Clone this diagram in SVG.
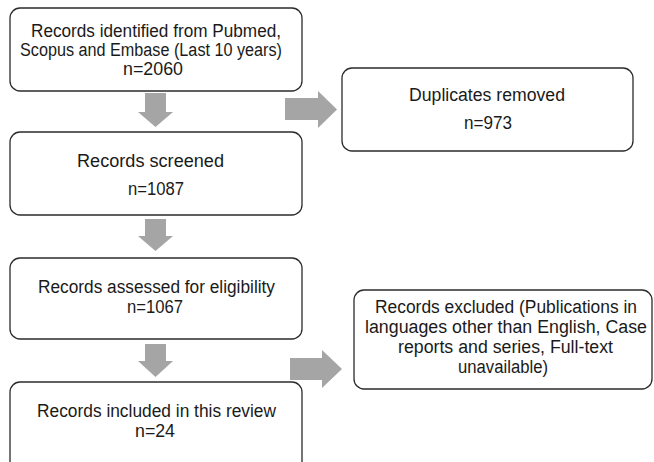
<svg xmlns="http://www.w3.org/2000/svg" width="654" height="462" viewBox="0 0 654 462">
<style>
.box{fill:#fff;stroke:#2b2b2b;stroke-width:1.3}
.t{font-family:"Liberation Sans",Arial,sans-serif;font-size:18px;fill:#1a1a1a;text-anchor:middle}
.ar{fill:#a5a5a5}
</style>
<rect width="654" height="462" fill="#fff"/>
<g id="connectors">
<polygon class="ar" points="145,93 166,93 166,112 173,112 155.5,127 138,112 145,112"/>
<polygon class="ar" points="145,219 166,219 166,236 173,236 155.5,251 138,236 145,236"/>
<polygon class="ar" points="145,344 166,344 166,361 173,361 155.5,377 138,361 145,361"/>
<polygon class="ar" points="285,98 318,98 318,91 337,109.5 318,128 318,120 285,120"/>
<polygon class="ar" points="290,358 322,358 322,350 342,369 322,388 322,380 290,380"/>
</g>
<g id="n1"><rect class="box" x="10" y="8" width="292" height="83" rx="10"/>
<text class="t" x="156" y="37" textLength="250" lengthAdjust="spacingAndGlyphs">Records identified from Pubmed,</text>
<text class="t" x="151" y="56" textLength="262" lengthAdjust="spacingAndGlyphs">Scopus and Embase (Last 10 years)</text>
<text class="t" x="153" y="75" textLength="60" lengthAdjust="spacingAndGlyphs">n=2060</text></g>
<g id="n2"><rect class="box" x="10" y="132" width="292" height="83" rx="10"/>
<text class="t" x="150.5" y="167" textLength="147" lengthAdjust="spacingAndGlyphs">Records screened</text>
<text class="t" x="156" y="195" textLength="56" lengthAdjust="spacingAndGlyphs">n=1087</text></g>
<g id="n3"><rect class="box" x="342" y="68" width="291" height="83" rx="10"/>
<text class="t" x="487" y="101" textLength="156" lengthAdjust="spacingAndGlyphs">Duplicates removed</text>
<text class="t" x="488" y="129" textLength="48" lengthAdjust="spacingAndGlyphs">n=973</text></g>
<g id="n4"><rect class="box" x="10" y="258" width="292" height="81" rx="10"/>
<text class="t" x="156.5" y="293" textLength="237" lengthAdjust="spacingAndGlyphs">Records assessed for eligibility</text>
<text class="t" x="155" y="313" textLength="56" lengthAdjust="spacingAndGlyphs">n=1067</text></g>
<g id="n5"><rect class="box" x="10" y="382" width="292" height="90" rx="10"/>
<text class="t" x="156.5" y="417" textLength="239" lengthAdjust="spacingAndGlyphs">Records included in this review</text>
<text class="t" x="155" y="437" textLength="40" lengthAdjust="spacingAndGlyphs">n=24</text></g>
<g id="n6"><rect class="box" x="354" y="290" width="298" height="99" rx="10"/>
<text class="t" x="506" y="313" textLength="262" lengthAdjust="spacingAndGlyphs">Records excluded (Publications in</text>
<text class="t" x="506" y="333" textLength="282" lengthAdjust="spacingAndGlyphs">languages other than English, Case</text>
<text class="t" x="505.5" y="353" textLength="215" lengthAdjust="spacingAndGlyphs">reports and series, Full-text</text>
<text class="t" x="503" y="373" textLength="90" lengthAdjust="spacingAndGlyphs">unavailable)</text></g>
</svg>
